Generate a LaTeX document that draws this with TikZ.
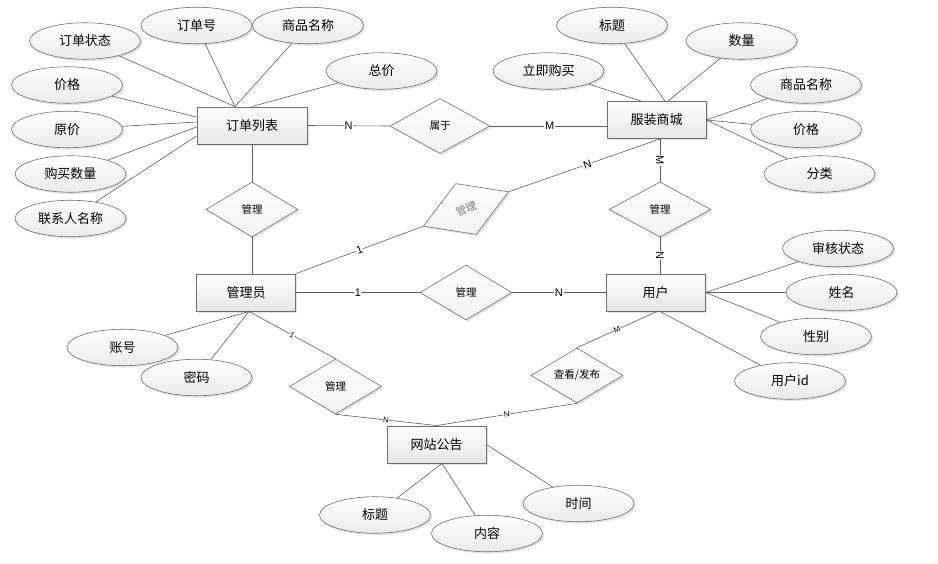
\documentclass[tikz,border=0pt]{standalone}
\usepackage{fontspec}
\setmainfont{Noto Sans CJK SC}
\newfontfamily\latf{Liberation Sans}
\usetikzlibrary{shapes.geometric,shadows,calc}
\definecolor{edgec}{HTML}{5C5C5C}
\definecolor{bordc}{HTML}{6E6E6E}
\begin{document}
\begin{tikzpicture}[x=1pt,y=-1pt,
  shad/.style={drop shadow={shadow xshift=1.8pt,shadow yshift=-1.8pt,opacity=0.22}},
  attr/.style={ellipse, draw=bordc, line width=0.6pt, top color=white, bottom color=gray!16, shad,
    minimum width=111pt, minimum height=36.5pt, inner sep=0pt, font=\fontsize{13}{13}\selectfont},
  ent/.style={rectangle, draw=bordc, line width=0.9pt, top color=white, bottom color=gray!20, shad,
    minimum width=99pt, minimum height=37pt, inner sep=0pt, font=\fontsize{13}{13}\selectfont},
  rel/.style={diamond, draw=bordc, line width=0.6pt, top color=white, bottom color=gray!10, shad,
    aspect=1.67, minimum width=92pt, minimum height=55pt, inner sep=0pt, font=\fontsize{10.5}{10.5}\selectfont},
  conn/.style={draw=edgec, line width=0.6pt},
  card/.style={fill=white, inner sep=0.6pt, font=\latf\fontsize{11}{11}\selectfont},
  cards/.style={fill=white, inner sep=0.4pt, font=\latf\fontsize{8}{8}\selectfont}
]
\useasboundingbox (0,0) rectangle (938,563);
\fill[white] (0,0) rectangle (938,563);

% entities
\node[ent, minimum width=110pt] (ol) at (252,125.5) {订单列表};
\node[ent] (fz) at (656.5,120) {服装商城};
\node[ent] (ad) at (246,292.5) {管理员};
\node[ent] (us) at (655.5,292.5) {用户};
\node[ent] (wz) at (436.5,444.5) {网站公告};

% relations
\node[rel, minimum width=100pt] (r1) at (440,126) {属于};
\node[rel] (r2) at (252,209.5) {管理};
\node[rel, minimum width=102pt] (r3) at (660,209.5) {管理};
\node[rel] (r4) at (466,292.5) {管理};
\node[rel, rotate=22, text=gray] (r5) at (466,209) {管理};
\node[rel] (r6) at (335.5,386.5) {管理};
\node[rel] (r7) at (577,375.5) {查看/发布};

% attributes of 订单列表
\node[attr] (a1) at (85,41) {订单状态};
\node[attr] (a2) at (196.5,25.5) {订单号};
\node[attr] (a3) at (308,25.5) {商品名称};
\node[attr] (a4) at (381.5,71) {总价};
\node[attr] (a5) at (67,85) {价格};
\node[attr] (a6) at (67,129.5) {原价};
\node[attr] (a7) at (70.5,174) {购买数量};
\node[attr] (a8) at (70.5,218.5) {联系人名称};

% attributes of 服装商城
\node[attr] (b1) at (612,25.5) {标题};
\node[attr] (b2) at (741.5,41) {数量};
\node[attr] (b3) at (548.5,71) {立即购买};
\node[attr] (b4) at (806,85) {商品名称};
\node[attr] (b5) at (806,129.5) {价格};
\node[attr] (b6) at (819.5,174) {分类};

% attributes of 用户
\node[attr] (c1) at (838,248.5) {审核状态};
\node[attr] (c2) at (841.5,292.5) {姓名};
\node[attr] (c3) at (816,336.5) {性别};
\node[attr] (c4) at (790,381) {用户id};

% attributes of 管理员
\node[attr] (d1) at (122.5,347.5) {账号};
\node[attr] (d2) at (196.5,377.5) {密码};

% attributes of 网站公告
\node[attr] (e1) at (375,515) {标题};
\node[attr] (e2) at (487,533.5) {内容};
\node[attr] (e3) at (578.5,503.5) {时间};

% attribute connectors
\draw[conn] (a1) -- ($(ol.north)+(-17,0)$);
\draw[conn] (a2) -- ($(ol.north)+(-17,0)$);
\draw[conn] (a3) -- ($(ol.north)+(-17,0)$);
\draw[conn] (a4) -- (ol.north);
\draw[conn] (a5) -- ($(ol.west)+(0,-8.5)$);
\draw[conn] (a6) -- ($(ol.west)+(0,-3.5)$);
\draw[conn] (a7) -- ($(ol.west)+(0,1.5)$);
\draw[conn] (a8) -- ($(ol.west)+(0,10.5)$);

\draw[conn] (b3) -- ($(fz.north)+(-15.5,0)$);
\draw[conn] (b1) -- ($(fz.north)+(8.5,0)$);
\draw[conn] (b2) -- ($(fz.north)+(11.5,0)$);
\draw[conn] (b4) -- (fz.east);
\draw[conn] (b5) -- (fz.east);
\draw[conn] (b6) -- (fz.east);

\draw[conn] (c1) -- (us.east);
\draw[conn] (c2) -- (us.east);
\draw[conn] (c3) -- (us.east);
\draw[conn] (c4) -- ($(us.south)+(4.5,0)$);

\draw[conn] (d1) -- ($(ad.south)+(3,0)$);
\draw[conn] (d2) -- ($(ad.south)+(3,0)$);

\draw[conn] (e1) -- ($(wz.south)+(5.5,0)$);
\draw[conn] (e2) -- ($(wz.south)+(5.5,0)$);
\draw[conn] (e3) -- (wz.east);

% relationship connectors
\draw[conn] (ol.east) -- node[card, pos=0.5] {N} (r1.west);
\draw[conn] (r1.east) -- node[card, pos=0.51] {M} ($(fz.west)+(0,6)$);

\draw[conn] ($(fz.south)+(3.5,0)$) -- node[card, rotate=-90, pos=0.5] {M} (r3.north);
\draw[conn] (r3.south) -- node[card, rotate=-90, pos=0.5] {N} ($(us.north)+(4.5,0)$);

\draw[conn] (ol.south) -- (r2.north);
\draw[conn] (r2.south) -- ($(ad.north)+(6,0)$);

\draw[conn] (ad.east) -- node[card, pos=0.5] {1} (r4.west);
\draw[conn] (r4.east) -- node[card, pos=0.5] {N} (us.west);

\draw[conn] (ad.north east) -- node[card, sloped, pos=0.5] {1} (r5.west);
\draw[conn] (r5.east) -- node[card, sloped, pos=0.52] {N} ($(fz.south)+(3.5,0)$);

\draw[conn] ($(ad.south)+(3,0)$) -- node[cards, sloped, pos=0.5] {1} (r6.north);
\draw[conn] (r6.south) -- node[cards, sloped, pos=0.5] {N} (wz.north);

\draw[conn] ($(us.south)+(1.5,0)$) -- node[cards, sloped, pos=0.5] {M} (r7.north);
\draw[conn] (r7.south) -- node[cards, sloped, pos=0.5] {N} (wz.north);
\end{tikzpicture}
\end{document}
